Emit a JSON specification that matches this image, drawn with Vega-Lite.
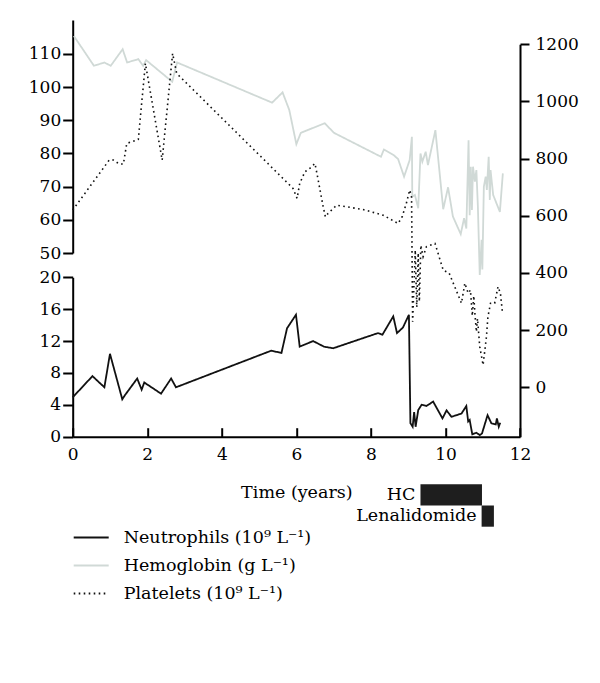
{
  "$schema": "https://vega.github.io/schema/vega-lite/v6.json",
  "width": 447.3,
  "height": 416.7,
  "autosize": {"type": "none"},
  "padding": {"left": 72.7, "top": 20, "right": 80, "bottom": 246.3},
  "background": "white",
  "config": {
    "view": {"stroke": null},
    "font": "DejaVu Serif",
    "axis": {
      "labelFont": "DejaVu Serif", "labelFontSize": 17, "labelColor": "#000",
      "domainColor": "#000", "tickColor": "#000", "domainWidth": 2, "tickWidth": 2,
      "grid": false, "titleFont": "DejaVu Serif", "titleFontSize": 17.5,
      "titleFontWeight": "normal", "titleColor": "#000"
    },
    "legend": {
      "orient": "none", "legendX": 0, "legendY": 499,
      "labelFont": "DejaVu Serif", "labelFontSize": 17.5, "labelColor": "#000", "labelLimit": 0,
      "symbolType": "stroke", "symbolSize": 1225, "symbolStrokeWidth": 1.8,
      "labelOffset": 14, "rowPadding": 1, "title": null
    }
  },
  "datasets": {
    "neut": [
      {"t": 0, "v": 4.94, "series": "Neutrophils (10⁹ L⁻¹)"},
      {"t": 0.53, "v": 7.6, "series": "Neutrophils (10⁹ L⁻¹)"},
      {"t": 0.85, "v": 6.2, "series": "Neutrophils (10⁹ L⁻¹)"},
      {"t": 1.0, "v": 10.4, "series": "Neutrophils (10⁹ L⁻¹)"},
      {"t": 1.33, "v": 4.7, "series": "Neutrophils (10⁹ L⁻¹)"},
      {"t": 1.4, "v": 5.2, "series": "Neutrophils (10⁹ L⁻¹)"},
      {"t": 1.73, "v": 7.3, "series": "Neutrophils (10⁹ L⁻¹)"},
      {"t": 1.85, "v": 5.9, "series": "Neutrophils (10⁹ L⁻¹)"},
      {"t": 1.92, "v": 6.8, "series": "Neutrophils (10⁹ L⁻¹)"},
      {"t": 2.37, "v": 5.4, "series": "Neutrophils (10⁹ L⁻¹)"},
      {"t": 2.64, "v": 7.3, "series": "Neutrophils (10⁹ L⁻¹)"},
      {"t": 2.77, "v": 6.2, "series": "Neutrophils (10⁹ L⁻¹)"},
      {"t": 5.33, "v": 10.8, "series": "Neutrophils (10⁹ L⁻¹)"},
      {"t": 5.6, "v": 10.5, "series": "Neutrophils (10⁹ L⁻¹)"},
      {"t": 5.75, "v": 13.6, "series": "Neutrophils (10⁹ L⁻¹)"},
      {"t": 5.99, "v": 15.3, "series": "Neutrophils (10⁹ L⁻¹)"},
      {"t": 6.09, "v": 11.3, "series": "Neutrophils (10⁹ L⁻¹)"},
      {"t": 6.45, "v": 12.0, "series": "Neutrophils (10⁹ L⁻¹)"},
      {"t": 6.74, "v": 11.3, "series": "Neutrophils (10⁹ L⁻¹)"},
      {"t": 6.99, "v": 11.1, "series": "Neutrophils (10⁹ L⁻¹)"},
      {"t": 8.19, "v": 13.0, "series": "Neutrophils (10⁹ L⁻¹)"},
      {"t": 8.31, "v": 12.8, "series": "Neutrophils (10⁹ L⁻¹)"},
      {"t": 8.6, "v": 15.1, "series": "Neutrophils (10⁹ L⁻¹)"},
      {"t": 8.7, "v": 13.0, "series": "Neutrophils (10⁹ L⁻¹)"},
      {"t": 8.86, "v": 13.7, "series": "Neutrophils (10⁹ L⁻¹)"},
      {"t": 9.02, "v": 15.3, "series": "Neutrophils (10⁹ L⁻¹)"},
      {"t": 9.06, "v": 1.7, "series": "Neutrophils (10⁹ L⁻¹)"},
      {"t": 9.12, "v": 1.25, "series": "Neutrophils (10⁹ L⁻¹)"},
      {"t": 9.16, "v": 3.1, "series": "Neutrophils (10⁹ L⁻¹)"},
      {"t": 9.2, "v": 1.25, "series": "Neutrophils (10⁹ L⁻¹)"},
      {"t": 9.27, "v": 3.35, "series": "Neutrophils (10⁹ L⁻¹)"},
      {"t": 9.36, "v": 4.0, "series": "Neutrophils (10⁹ L⁻¹)"},
      {"t": 9.49, "v": 3.85, "series": "Neutrophils (10⁹ L⁻¹)"},
      {"t": 9.67, "v": 4.4, "series": "Neutrophils (10⁹ L⁻¹)"},
      {"t": 9.92, "v": 2.3, "series": "Neutrophils (10⁹ L⁻¹)"},
      {"t": 10.03, "v": 3.3, "series": "Neutrophils (10⁹ L⁻¹)"},
      {"t": 10.16, "v": 2.5, "series": "Neutrophils (10⁹ L⁻¹)"},
      {"t": 10.43, "v": 2.9, "series": "Neutrophils (10⁹ L⁻¹)"},
      {"t": 10.56, "v": 3.85, "series": "Neutrophils (10⁹ L⁻¹)"},
      {"t": 10.61, "v": 1.9, "series": "Neutrophils (10⁹ L⁻¹)"},
      {"t": 10.65, "v": 2.1, "series": "Neutrophils (10⁹ L⁻¹)"},
      {"t": 10.72, "v": 0.3, "series": "Neutrophils (10⁹ L⁻¹)"},
      {"t": 10.83, "v": 0.5, "series": "Neutrophils (10⁹ L⁻¹)"},
      {"t": 10.92, "v": 0.2, "series": "Neutrophils (10⁹ L⁻¹)"},
      {"t": 10.98, "v": 0.4, "series": "Neutrophils (10⁹ L⁻¹)"},
      {"t": 11.13, "v": 2.7, "series": "Neutrophils (10⁹ L⁻¹)"},
      {"t": 11.23, "v": 1.7, "series": "Neutrophils (10⁹ L⁻¹)"},
      {"t": 11.35, "v": 1.55, "series": "Neutrophils (10⁹ L⁻¹)"},
      {"t": 11.38, "v": 2.3, "series": "Neutrophils (10⁹ L⁻¹)"},
      {"t": 11.43, "v": 1.25, "series": "Neutrophils (10⁹ L⁻¹)"},
      {"t": 11.47, "v": 1.75, "series": "Neutrophils (10⁹ L⁻¹)"}
    ],
    "hb": [
      {"t": 0.03, "v": 115.4, "series": "Hemoglobin (g L⁻¹)"},
      {"t": 0.57, "v": 106.4, "series": "Hemoglobin (g L⁻¹)"},
      {"t": 0.85, "v": 107.4, "series": "Hemoglobin (g L⁻¹)"},
      {"t": 1.02, "v": 106.4, "series": "Hemoglobin (g L⁻¹)"},
      {"t": 1.34, "v": 111.4, "series": "Hemoglobin (g L⁻¹)"},
      {"t": 1.46, "v": 107.4, "series": "Hemoglobin (g L⁻¹)"},
      {"t": 1.76, "v": 108.4, "series": "Hemoglobin (g L⁻¹)"},
      {"t": 1.89, "v": 106.4, "series": "Hemoglobin (g L⁻¹)"},
      {"t": 1.97, "v": 108.1, "series": "Hemoglobin (g L⁻¹)"},
      {"t": 2.67, "v": 101.6, "series": "Hemoglobin (g L⁻¹)"},
      {"t": 2.8, "v": 107.4, "series": "Hemoglobin (g L⁻¹)"},
      {"t": 5.35, "v": 95.3, "series": "Hemoglobin (g L⁻¹)"},
      {"t": 5.63, "v": 98.4, "series": "Hemoglobin (g L⁻¹)"},
      {"t": 5.81, "v": 93.1, "series": "Hemoglobin (g L⁻¹)"},
      {"t": 6.0, "v": 82.8, "series": "Hemoglobin (g L⁻¹)"},
      {"t": 6.12, "v": 86.2, "series": "Hemoglobin (g L⁻¹)"},
      {"t": 6.76, "v": 89.1, "series": "Hemoglobin (g L⁻¹)"},
      {"t": 7.01, "v": 86.2, "series": "Hemoglobin (g L⁻¹)"},
      {"t": 8.27, "v": 79.0, "series": "Hemoglobin (g L⁻¹)"},
      {"t": 8.35, "v": 81.2, "series": "Hemoglobin (g L⁻¹)"},
      {"t": 8.61, "v": 79.5, "series": "Hemoglobin (g L⁻¹)"},
      {"t": 8.73, "v": 78.3, "series": "Hemoglobin (g L⁻¹)"},
      {"t": 8.89, "v": 73.0, "series": "Hemoglobin (g L⁻¹)"},
      {"t": 9.04, "v": 78, "series": "Hemoglobin (g L⁻¹)"},
      {"t": 9.1, "v": 85, "series": "Hemoglobin (g L⁻¹)"},
      {"t": 9.11, "v": 67, "series": "Hemoglobin (g L⁻¹)"},
      {"t": 9.18, "v": 67.5, "series": "Hemoglobin (g L⁻¹)"},
      {"t": 9.27, "v": 63.5, "series": "Hemoglobin (g L⁻¹)"},
      {"t": 9.33, "v": 80, "series": "Hemoglobin (g L⁻¹)"},
      {"t": 9.38, "v": 77.5, "series": "Hemoglobin (g L⁻¹)"},
      {"t": 9.47, "v": 80.5, "series": "Hemoglobin (g L⁻¹)"},
      {"t": 9.53, "v": 76.5, "series": "Hemoglobin (g L⁻¹)"},
      {"t": 9.73, "v": 87, "series": "Hemoglobin (g L⁻¹)"},
      {"t": 9.94, "v": 63.2, "series": "Hemoglobin (g L⁻¹)"},
      {"t": 10.07, "v": 69.8, "series": "Hemoglobin (g L⁻¹)"},
      {"t": 10.2, "v": 61, "series": "Hemoglobin (g L⁻¹)"},
      {"t": 10.41, "v": 55.7, "series": "Hemoglobin (g L⁻¹)"},
      {"t": 10.5, "v": 60.5, "series": "Hemoglobin (g L⁻¹)"},
      {"t": 10.56, "v": 57.4, "series": "Hemoglobin (g L⁻¹)"},
      {"t": 10.62, "v": 84, "series": "Hemoglobin (g L⁻¹)"},
      {"t": 10.65, "v": 61.4, "series": "Hemoglobin (g L⁻¹)"},
      {"t": 10.68, "v": 76, "series": "Hemoglobin (g L⁻¹)"},
      {"t": 10.71, "v": 63, "series": "Hemoglobin (g L⁻¹)"},
      {"t": 10.74, "v": 76, "series": "Hemoglobin (g L⁻¹)"},
      {"t": 10.79, "v": 71.5, "series": "Hemoglobin (g L⁻¹)"},
      {"t": 10.83, "v": 75, "series": "Hemoglobin (g L⁻¹)"},
      {"t": 10.87, "v": 64, "series": "Hemoglobin (g L⁻¹)"},
      {"t": 10.92, "v": 43.4, "series": "Hemoglobin (g L⁻¹)"},
      {"t": 10.97, "v": 54, "series": "Hemoglobin (g L⁻¹)"},
      {"t": 10.99, "v": 45, "series": "Hemoglobin (g L⁻¹)"},
      {"t": 11.03, "v": 70, "series": "Hemoglobin (g L⁻¹)"},
      {"t": 11.08, "v": 73, "series": "Hemoglobin (g L⁻¹)"},
      {"t": 11.11, "v": 69, "series": "Hemoglobin (g L⁻¹)"},
      {"t": 11.16, "v": 79, "series": "Hemoglobin (g L⁻¹)"},
      {"t": 11.19, "v": 66, "series": "Hemoglobin (g L⁻¹)"},
      {"t": 11.21, "v": 75, "series": "Hemoglobin (g L⁻¹)"},
      {"t": 11.28, "v": 67.5, "series": "Hemoglobin (g L⁻¹)"},
      {"t": 11.46, "v": 62.4, "series": "Hemoglobin (g L⁻¹)"},
      {"t": 11.54, "v": 74, "series": "Hemoglobin (g L⁻¹)"}
    ],
    "plt": [
      {"t": 0, "v": 620, "series": "Platelets (10⁹ L⁻¹)"},
      {"t": 0.98, "v": 795, "series": "Platelets (10⁹ L⁻¹)"},
      {"t": 1.09, "v": 795, "series": "Platelets (10⁹ L⁻¹)"},
      {"t": 1.25, "v": 781, "series": "Platelets (10⁹ L⁻¹)"},
      {"t": 1.36, "v": 781, "series": "Platelets (10⁹ L⁻¹)"},
      {"t": 1.45, "v": 853, "series": "Platelets (10⁹ L⁻¹)"},
      {"t": 1.76, "v": 867, "series": "Platelets (10⁹ L⁻¹)"},
      {"t": 1.95, "v": 1133, "series": "Platelets (10⁹ L⁻¹)"},
      {"t": 2.4, "v": 795, "series": "Platelets (10⁹ L⁻¹)"},
      {"t": 2.68, "v": 1168, "series": "Platelets (10⁹ L⁻¹)"},
      {"t": 2.79, "v": 1098, "series": "Platelets (10⁹ L⁻¹)"},
      {"t": 5.91, "v": 696, "series": "Platelets (10⁹ L⁻¹)"},
      {"t": 6.02, "v": 661, "series": "Platelets (10⁹ L⁻¹)"},
      {"t": 6.09, "v": 713, "series": "Platelets (10⁹ L⁻¹)"},
      {"t": 6.23, "v": 754, "series": "Platelets (10⁹ L⁻¹)"},
      {"t": 6.36, "v": 766, "series": "Platelets (10⁹ L⁻¹)"},
      {"t": 6.5, "v": 783, "series": "Platelets (10⁹ L⁻¹)"},
      {"t": 6.57, "v": 736, "series": "Platelets (10⁹ L⁻¹)"},
      {"t": 6.72, "v": 631, "series": "Platelets (10⁹ L⁻¹)"},
      {"t": 6.78, "v": 596, "series": "Platelets (10⁹ L⁻¹)"},
      {"t": 6.85, "v": 608, "series": "Platelets (10⁹ L⁻¹)"},
      {"t": 7.08, "v": 637, "series": "Platelets (10⁹ L⁻¹)"},
      {"t": 7.79, "v": 622, "series": "Platelets (10⁹ L⁻¹)"},
      {"t": 8.33, "v": 602, "series": "Platelets (10⁹ L⁻¹)"},
      {"t": 8.73, "v": 573, "series": "Platelets (10⁹ L⁻¹)"},
      {"t": 8.84, "v": 597, "series": "Platelets (10⁹ L⁻¹)"},
      {"t": 8.95, "v": 643, "series": "Platelets (10⁹ L⁻¹)"},
      {"t": 9.04, "v": 690, "series": "Platelets (10⁹ L⁻¹)"},
      {"t": 9.09, "v": 666, "series": "Platelets (10⁹ L⁻¹)"},
      {"t": 9.12, "v": 229, "series": "Platelets (10⁹ L⁻¹)"},
      {"t": 9.19, "v": 480, "series": "Platelets (10⁹ L⁻¹)"},
      {"t": 9.23, "v": 280, "series": "Platelets (10⁹ L⁻¹)"},
      {"t": 9.27, "v": 470, "series": "Platelets (10⁹ L⁻¹)"},
      {"t": 9.3, "v": 300, "series": "Platelets (10⁹ L⁻¹)"},
      {"t": 9.34, "v": 497, "series": "Platelets (10⁹ L⁻¹)"},
      {"t": 9.4, "v": 457, "series": "Platelets (10⁹ L⁻¹)"},
      {"t": 9.49, "v": 492, "series": "Platelets (10⁹ L⁻¹)"},
      {"t": 9.72, "v": 503, "series": "Platelets (10⁹ L⁻¹)"},
      {"t": 9.94, "v": 410, "series": "Platelets (10⁹ L⁻¹)"},
      {"t": 10.1, "v": 399, "series": "Platelets (10⁹ L⁻¹)"},
      {"t": 10.43, "v": 294, "series": "Platelets (10⁹ L⁻¹)"},
      {"t": 10.52, "v": 364, "series": "Platelets (10⁹ L⁻¹)"},
      {"t": 10.61, "v": 329, "series": "Platelets (10⁹ L⁻¹)"},
      {"t": 10.67, "v": 340, "series": "Platelets (10⁹ L⁻¹)"},
      {"t": 10.72, "v": 250, "series": "Platelets (10⁹ L⁻¹)"},
      {"t": 10.76, "v": 320, "series": "Platelets (10⁹ L⁻¹)"},
      {"t": 10.79, "v": 259, "series": "Platelets (10⁹ L⁻¹)"},
      {"t": 10.83, "v": 194, "series": "Platelets (10⁹ L⁻¹)"},
      {"t": 10.86, "v": 240, "series": "Platelets (10⁹ L⁻¹)"},
      {"t": 10.92, "v": 142, "series": "Platelets (10⁹ L⁻¹)"},
      {"t": 11.01, "v": 78, "series": "Platelets (10⁹ L⁻¹)"},
      {"t": 11.1, "v": 177, "series": "Platelets (10⁹ L⁻¹)"},
      {"t": 11.14, "v": 247, "series": "Platelets (10⁹ L⁻¹)"},
      {"t": 11.21, "v": 294, "series": "Platelets (10⁹ L⁻¹)"},
      {"t": 11.32, "v": 294, "series": "Platelets (10⁹ L⁻¹)"},
      {"t": 11.41, "v": 352, "series": "Platelets (10⁹ L⁻¹)"},
      {"t": 11.46, "v": 334, "series": "Platelets (10⁹ L⁻¹)"},
      {"t": 11.48, "v": 323, "series": "Platelets (10⁹ L⁻¹)"},
      {"t": 11.53, "v": 259, "series": "Platelets (10⁹ L⁻¹)"}
    ],
    "treat": [
      {"drug": "HC", "start": 9.33, "end": 10.98},
      {"drug": "Lenalidomide", "start": 10.97, "end": 11.3}
    ]
  },
  "resolve": {"scale": {"y": "independent"}, "axis": {"y": "independent"}},
  "layer": [
    {
      "data": {"name": "hb"},
      "mark": {"type": "line", "strokeWidth": 1.8, "strokeCap": "butt"},
      "encoding": {
        "x": {"field": "t", "type": "quantitative", "title": "Time (years)",
              "scale": {"domain": [0, 12], "nice": false, "zero": false},
              "axis": {"values": [0, 2, 4, 6, 8, 10, 12], "tickSize": -9, "labelPadding": 19, "titlePadding": 21, "labelFlush": false}},
        "y": {"field": "v", "type": "quantitative",
              "scale": {"domain": [50, 120.2], "range": [233, 0], "nice": false, "zero": false},
              "axis": {"orient": "left", "values": [50, 60, 70, 80, 90, 100, 110], "title": null, "tickSize": 10, "labelPadding": 2}},
        "color": {"field": "series", "type": "nominal",
                  "scale": {"domain": ["Neutrophils (10⁹ L⁻¹)", "Hemoglobin (g L⁻¹)", "Platelets (10⁹ L⁻¹)"], "range": ["#111111", "#d0d9d6", "#111111"]}},
        "strokeDash": {"field": "series", "type": "nominal",
                  "scale": {"domain": ["Neutrophils (10⁹ L⁻¹)", "Hemoglobin (g L⁻¹)", "Platelets (10⁹ L⁻¹)"], "range": [[1, 0], [1, 0], [1.6, 3.4]]}}
      }
    },
    {
      "data": {"name": "neut"},
      "mark": {"type": "line", "strokeWidth": 1.8, "strokeCap": "butt"},
      "encoding": {
        "x": {"field": "t", "type": "quantitative", "title": "Time (years)"},
        "y": {"field": "v", "type": "quantitative",
              "scale": {"domain": [0, 20], "range": [416.7, 257.3], "nice": false, "zero": false},
              "axis": {"orient": "left", "values": [0, 4, 8, 12, 16, 20], "title": null, "tickSize": 10, "labelPadding": 2}},
        "color": {"field": "series", "type": "nominal",
                  "scale": {"domain": ["Neutrophils (10⁹ L⁻¹)", "Hemoglobin (g L⁻¹)", "Platelets (10⁹ L⁻¹)"], "range": ["#111111", "#d0d9d6", "#111111"]}},
        "strokeDash": {"field": "series", "type": "nominal",
                  "scale": {"domain": ["Neutrophils (10⁹ L⁻¹)", "Hemoglobin (g L⁻¹)", "Platelets (10⁹ L⁻¹)"], "range": [[1, 0], [1, 0], [1.6, 3.4]]}}
      }
    },
    {
      "data": {"name": "plt"},
      "mark": {"type": "line", "strokeWidth": 1.6, "strokeCap": "butt"},
      "encoding": {
        "x": {"field": "t", "type": "quantitative", "title": "Time (years)"},
        "y": {"field": "v", "type": "quantitative",
              "scale": {"domain": [-173, 1200], "range": [416.7, 24.3], "nice": false, "zero": false},
              "axis": {"orient": "right", "values": [0, 200, 400, 600, 800, 1000, 1200], "format": "d", "title": null, "tickSize": 9, "labelPadding": 6}},
        "color": {"field": "series", "type": "nominal",
                  "scale": {"domain": ["Neutrophils (10⁹ L⁻¹)", "Hemoglobin (g L⁻¹)", "Platelets (10⁹ L⁻¹)"], "range": ["#111111", "#d0d9d6", "#111111"]}},
        "strokeDash": {"field": "series", "type": "nominal",
                  "scale": {"domain": ["Neutrophils (10⁹ L⁻¹)", "Hemoglobin (g L⁻¹)", "Platelets (10⁹ L⁻¹)"], "range": [[1, 0], [1, 0], [1.6, 3.4]]}}
      }
    },
    {
      "data": {"name": "treat"},
      "layer": [
        {
          "mark": {"type": "bar", "color": "#1e1e1e"},
          "encoding": {
            "x": {"field": "start", "type": "quantitative", "title": "Time (years)"},
            "x2": {"field": "end"},
            "y": {"field": "drug", "type": "nominal",
                  "scale": {"domain": ["HC", "Lenalidomide"], "range": [464.3, 506.7], "paddingInner": 0, "paddingOuter": 0},
                  "axis": null}
          }
        },
        {
          "mark": {"type": "text", "align": "right", "baseline": "middle", "dx": -5, "fontSize": 17.5, "font": "DejaVu Serif", "color": "#000"},
          "encoding": {
            "x": {"field": "start", "type": "quantitative", "title": "Time (years)"},
            "y": {"field": "drug", "type": "nominal", "axis": null},
            "text": {"field": "drug"}
          }
        }
      ]
    }
  ]
}
